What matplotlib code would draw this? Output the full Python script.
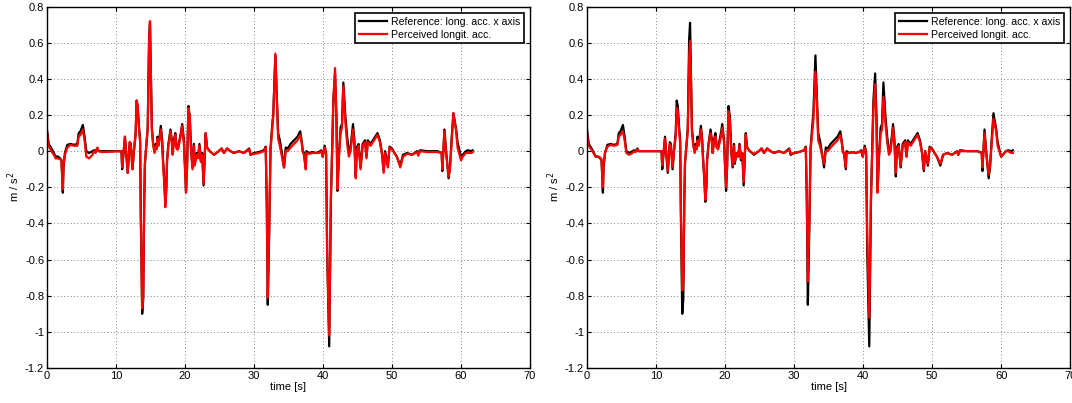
import matplotlib
matplotlib.use("Agg")
import matplotlib.pyplot as plt
import numpy as np

plt.rcParams['font.family'] = ['Liberation Sans', 'DejaVu Sans']
plt.rcParams['axes.unicode_minus'] = False

# time axis [s]
t = [
    # 0 - 10.7
    0.0, 0.25, 0.5, 0.8, 1.0, 1.25, 1.6, 1.9, 2.1, 2.3, 2.4, 2.6, 2.95, 3.4, 3.9,
    4.4, 4.6, 4.85, 5.2, 5.45, 5.7, 6.1, 6.6, 6.8, 7.05, 7.3, 7.5, 8.0, 10.7,
    # 10.8 - 23.6
    10.8, 10.9, 11.3, 11.7, 12.0, 12.15, 12.4, 12.6, 12.85, 13.0, 13.15, 13.35, 13.5,
    13.6, 13.8, 13.95, 14.1, 14.2, 14.45, 14.6, 14.8, 14.93, 15.1, 15.2, 15.4, 15.6,
    15.75, 15.9, 16.0, 16.2, 16.5, 16.7, 16.8, 17.0, 17.15, 17.3, 17.4, 17.6, 17.9,
    18.1, 18.2, 18.4, 18.6, 18.8, 19.0, 19.4, 19.6, 19.85, 20.15, 20.3, 20.5, 20.7,
    20.9, 21.1, 21.3, 21.4, 21.7, 21.9, 22.1, 22.3, 22.5, 22.7, 23.0, 23.2, 23.6,
    # 24.2 - 37.6
    24.2, 24.9, 25.3, 25.65, 26.1, 26.6, 27.1, 27.8, 28.55, 29.3, 29.5, 30.0, 30.7,
    31.45, 31.7, 31.85, 32.0, 32.2, 32.4, 32.6, 32.8, 33.1, 33.3, 33.5, 33.75, 34.05,
    34.35, 34.6, 34.9, 35.3, 35.8, 36.3, 36.7, 36.9, 37.1, 37.25, 37.5, 37.6,
    # 38.0 - 49.65
    38.0, 38.45, 38.9, 39.4, 39.75, 39.95, 40.25, 40.45, 40.6, 40.9, 41.15, 41.35,
    41.5, 41.75, 41.95, 42.1, 42.3, 42.55, 42.75, 42.95, 43.25, 43.5, 43.75, 44.0,
    44.35, 44.55, 44.75, 44.9, 45.15, 45.45, 45.75, 46.1, 46.3, 46.5, 46.9, 47.4,
    47.9, 48.25, 48.55, 48.8, 49.0, 49.4, 49.65,
    # 50.0 - 61.7
    50.0, 50.35, 50.7, 51.2, 51.6, 52.2, 52.9, 53.65, 53.8, 54.05, 55.1, 56.6, 57.2,
    57.3, 57.6, 57.8, 58.2, 58.4, 58.7, 58.9, 59.3, 59.5, 60.0, 60.25, 60.7, 61.0,
    61.5, 61.7,
]

# reference: longitudinal acceleration along x axis [m/s^2]
ref_acc = [
    0.12, 0.04, 0.025, 0.005, -0.01, -0.03, -0.03, -0.04, -0.05, -0.23, -0.09, -0.01,
    0.035, 0.04, 0.035, 0.04, 0.10, 0.11, 0.145, 0.08, 0.0, -0.01, 0.0, 0.005, 0.0,
    0.015, 0.0, 0.0, 0.0,
    0.0, -0.10, 0.08, -0.12, 0.05, 0.04, -0.10, 0.0, 0.10, 0.28, 0.25, 0.13, 0.06,
    -0.36, -0.90, -0.82, -0.27, -0.07, 0.06, 0.13, 0.62, 0.71, 0.36, 0.13, 0.04, 0.0,
    0.04, 0.02, 0.08, 0.04, 0.14, 0.06, -0.03, -0.16, -0.28, -0.20, -0.05, 0.04, 0.12,
    0.06, -0.01, 0.06, 0.10, 0.02, 0.02, 0.10, 0.15, 0.06, -0.22, -0.09, 0.25, 0.19,
    0.0, -0.09, 0.04, -0.07, -0.01, -0.03, 0.04, -0.05, -0.01, -0.19, 0.10, 0.02, 0.0,
    -0.02, 0.0, 0.015, -0.01, 0.015, 0.0, -0.01, 0.0, -0.01, 0.015, -0.02, -0.01,
    -0.005, 0.005, 0.025, -0.28, -0.85, -0.46, 0.02, 0.12, 0.21, 0.53, 0.32, 0.10,
    0.06, -0.01, -0.09, 0.02, 0.015, 0.04, 0.06, 0.08, 0.11, 0.06, -0.005, -0.01,
    -0.10, 0.0,
    -0.01, -0.005, -0.01, -0.005, 0.005, -0.03, 0.03, -0.01, -0.55, -1.08, -0.27, 0.04,
    0.28, 0.43, 0.19, -0.22, -0.03, 0.13, 0.15, 0.38, 0.19, 0.08, 0.0, 0.02, 0.15,
    0.06, -0.14, 0.02, 0.04, -0.09, 0.04, 0.06, -0.03, 0.06, 0.04, 0.07, 0.10, 0.06,
    -0.01, -0.11, 0.0, -0.08, 0.025,
    0.015, -0.01, -0.03, -0.08, -0.02, -0.01, -0.02, 0.0, -0.02, 0.005, 0.0, 0.0,
    -0.01, -0.11, 0.12, 0.02, -0.15, -0.09, 0.10, 0.21, 0.12, 0.05, -0.03, -0.02, 0.0,
    0.005, 0.0, 0.005,
]

# perceived longitudinal acceleration, left plot
perc_left = [
    0.11, 0.03, 0.01, -0.01, -0.02, -0.04, -0.04, -0.045, -0.05, -0.21, -0.08, -0.02,
    0.02, 0.035, 0.03, 0.03, 0.08, 0.09, 0.12, 0.06, -0.03, -0.04, -0.02, 0.0, -0.01,
    0.02, 0.0, -0.005, 0.0,
    0.0, -0.09, 0.08, -0.12, 0.05, 0.03, -0.10, 0.0, 0.09, 0.28, 0.24, 0.12, 0.05,
    -0.35, -0.87, -0.80, -0.26, -0.06, 0.06, 0.12, 0.60, 0.72, 0.34, 0.12, 0.03, -0.01,
    0.03, 0.01, 0.07, 0.03, 0.12, 0.05, -0.05, -0.18, -0.31, -0.22, -0.06, 0.03, 0.11,
    0.05, -0.02, 0.05, 0.09, 0.01, 0.01, 0.09, 0.14, 0.04, -0.23, -0.10, 0.24, 0.18,
    -0.01, -0.10, 0.03, -0.08, -0.02, -0.04, 0.03, -0.06, -0.02, -0.18, 0.10, 0.02, 0.0,
    -0.02, 0.0, 0.015, -0.01, 0.015, 0.0, -0.01, 0.0, -0.01, 0.01, -0.02, -0.015,
    -0.01, 0.0, 0.02, -0.26, -0.81, -0.44, 0.01, 0.10, 0.20, 0.54, 0.30, 0.07,
    0.03, -0.03, -0.09, 0.0, 0.0, 0.02, 0.04, 0.06, 0.09, 0.05, -0.01, -0.02,
    -0.10, -0.01,
    -0.015, -0.01, -0.01, -0.01, 0.0, -0.03, 0.02, -0.02, -0.55, -1.02, -0.25, 0.03,
    0.28, 0.46, 0.17, -0.21, -0.04, 0.10, 0.13, 0.36, 0.16, 0.04, -0.03, 0.0, 0.12,
    0.04, -0.15, 0.0, 0.03, -0.10, 0.03, 0.05, -0.04, 0.05, 0.03, 0.06, 0.09, 0.05,
    -0.02, -0.12, -0.01, -0.09, 0.02,
    0.01, -0.01, -0.03, -0.09, -0.03, -0.015, -0.02, -0.005, -0.025, 0.0, -0.005,
    -0.005, -0.01, -0.10, 0.11, 0.01, -0.14, -0.10, 0.09, 0.21, 0.11, 0.02, -0.05,
    -0.03, -0.01, -0.01, -0.01, -0.005,
]

# perceived longitudinal acceleration, right plot
perc_right = [
    0.10, 0.03, 0.015, 0.0, -0.015, -0.03, -0.03, -0.035, -0.045, -0.20, -0.08, -0.01,
    0.025, 0.035, 0.03, 0.035, 0.08, 0.09, 0.11, 0.06, -0.01, -0.02, -0.01, 0.0,
    -0.005, 0.01, 0.0, 0.0, 0.0,
    0.0, -0.08, 0.07, -0.11, 0.04, 0.03, -0.09, 0.0, 0.08, 0.24, 0.22, 0.11, 0.04,
    -0.30, -0.77, -0.74, -0.25, -0.06, 0.05, 0.11, 0.52, 0.61, 0.32, 0.11, 0.03, -0.01,
    0.03, 0.01, 0.06, 0.03, 0.12, 0.05, -0.04, -0.15, -0.27, -0.19, -0.05, 0.03, 0.10,
    0.05, -0.01, 0.05, 0.08, 0.02, 0.01, 0.08, 0.13, 0.05, -0.20, -0.08, 0.22, 0.17,
    0.0, -0.08, 0.03, -0.06, -0.01, -0.03, 0.03, -0.04, -0.01, -0.17, 0.09, 0.02, 0.0,
    -0.015, 0.0, 0.015, -0.01, 0.015, 0.0, -0.01, 0.0, -0.01, 0.01, -0.015, -0.01,
    -0.005, 0.005, 0.02, -0.22, -0.72, -0.40, 0.01, 0.09, 0.17, 0.44, 0.28, 0.06,
    0.03, -0.02, -0.07, 0.0, 0.0, 0.02, 0.04, 0.06, 0.09, 0.05, -0.01, -0.01,
    -0.09, -0.01,
    -0.01, -0.005, -0.01, -0.005, 0.0, -0.03, 0.02, -0.02, -0.45, -0.92, -0.25, 0.03,
    0.24, 0.37, 0.15, -0.23, -0.04, 0.10, 0.12, 0.30, 0.15, 0.05, -0.02, 0.0, 0.13,
    0.04, -0.12, 0.01, 0.03, -0.08, 0.03, 0.05, -0.03, 0.05, 0.03, 0.06, 0.09, 0.05,
    -0.01, -0.10, 0.0, -0.07, 0.02,
    0.01, -0.01, -0.03, -0.07, -0.02, -0.01, -0.02, 0.0, -0.02, 0.0, 0.0, 0.0,
    -0.01, -0.09, 0.10, 0.01, -0.13, -0.08, 0.08, 0.18, 0.11, 0.03, -0.03, -0.02, 0.0,
    0.0, -0.01, -0.01,
]

xticks = np.arange(0, 71, 10)
yticks = np.arange(-1.2, 0.81, 0.2)
ytick_labels = ['-1.2', '-1', '-0.8', '-0.6', '-0.4', '-0.2', '0', '0.2', '0.4', '0.6', '0.8']

fig = plt.figure(figsize=(10.72, 4.03), dpi=100)
ax1 = fig.add_axes([0.0438, 0.0868, 0.4506, 0.8968])
ax2 = fig.add_axes([0.5476, 0.0868, 0.4506, 0.8968])

for ax, perc in [(ax1, perc_left), (ax2, perc_right)]:
    ax.plot(t, ref_acc, color='black', linewidth=1.6, label='Reference: long. acc. x axis')
    ax.plot(t, perc, color='red', linewidth=1.6, label='Perceived longit. acc.')
    ax.set_xlim(0, 70)
    ax.set_ylim(-1.2, 0.8)
    ax.set_xticks(xticks)
    ax.set_yticks(yticks)
    ax.set_yticklabels(ytick_labels)
    ax.grid(True, linestyle=(0, (1, 3)), color='0.35', linewidth=0.6)
    ax.tick_params(direction='in', top=True, right=True, labelsize=8, length=3, pad=2)
    for s in ax.spines.values():
        s.set_linewidth(1.0)
    ax.set_xlabel('time [s]', fontsize=8, labelpad=1)
    ax.set_ylabel('m / s$^2$', fontsize=8, labelpad=2)
    leg = ax.legend(loc='upper right', fontsize=7.6, fancybox=False, framealpha=1,
                    edgecolor='black', handlelength=2.7, borderpad=0.35,
                    labelspacing=0.3, borderaxespad=0.6, handletextpad=0.35)
    leg.get_frame().set_linewidth(1.2)

fig.savefig('out.png', dpi=100)
